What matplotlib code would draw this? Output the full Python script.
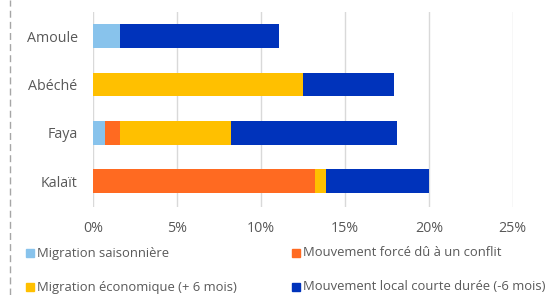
import matplotlib.pyplot as plt
from matplotlib.patches import Rectangle
from matplotlib.lines import Line2D

villes = ['Kalaït', 'Faya', 'Abéché', 'Amoule']
saisonniere = [0.0, 0.7, 0.0, 1.6]
conflit = [13.2, 0.9, 0.0, 0.0]
economique = [0.7, 6.6, 12.5, 0.0]
local = [6.1, 9.9, 5.4, 9.5]

series = ['Migration saisonnière', 'Mouvement forcé dû à un conflit',
          'Migration économique (+ 6 mois)', 'Mouvement local courte durée (-6 mois)']
couleurs = ['#88C3EC', '#FF6A21', '#FFC000', '#0033BB']
valeurs = [saisonniere, conflit, economique, local]

plt.rcParams['font.family'] = ['Open Sans', 'DejaVu Sans']
gris = '#595959'

fig = plt.figure(figsize=(5.58, 2.95), dpi=100)
ax = fig.add_axes([0.1667, 0.298, 0.7523, 0.661])

y = range(len(villes))
gauche = [0.0] * len(villes)
for nom, vals, c in zip(series, valeurs, couleurs):
    ax.barh(y, vals, left=gauche, height=0.49, color=c, zorder=3)
    gauche = [g + v for g, v in zip(gauche, vals)]

ax.set_xlim(0, 25)
ax.set_ylim(-0.54, 3.5)
ax.set_xticks([0, 5, 10, 15, 20, 25])
ax.set_xticklabels(['0%', '5%', '10%', '15%', '20%', '25%'])
ax.set_yticks(list(y))
ax.set_yticklabels(villes)
ax.grid(axis='x', color='#D9D9D9', linewidth=1, zorder=0)
for s in ax.spines.values():
    s.set_visible(False)
ax.tick_params(length=0, colors=gris, labelsize=10.3)
ax.tick_params(axis='x', pad=10)
ax.tick_params(axis='y', pad=11)

# legende: 2 lignes x 2 colonnes
pos = [(26, 253), (292, 253), (26, 287), (292, 287)]
for (px, py), nom, c in zip(pos, series, couleurs):
    fig.add_artist(Rectangle((px / 558, 1 - (py + 4) / 295), 8 / 558, 8 / 295,
                             color=c, transform=fig.transFigure))
    fig.text((px + 11) / 558, 1 - py / 295, nom, fontsize=9.4, color=gris,
             va='center', ha='left')

# trait pointille a gauche
fig.add_artist(Line2D([0.018, 0.018], [0.0, 1.0], color='#A6A6A6', linestyle=(0, (5, 3)),
                      linewidth=1, transform=fig.transFigure))

fig.savefig('out.png', dpi=100)
